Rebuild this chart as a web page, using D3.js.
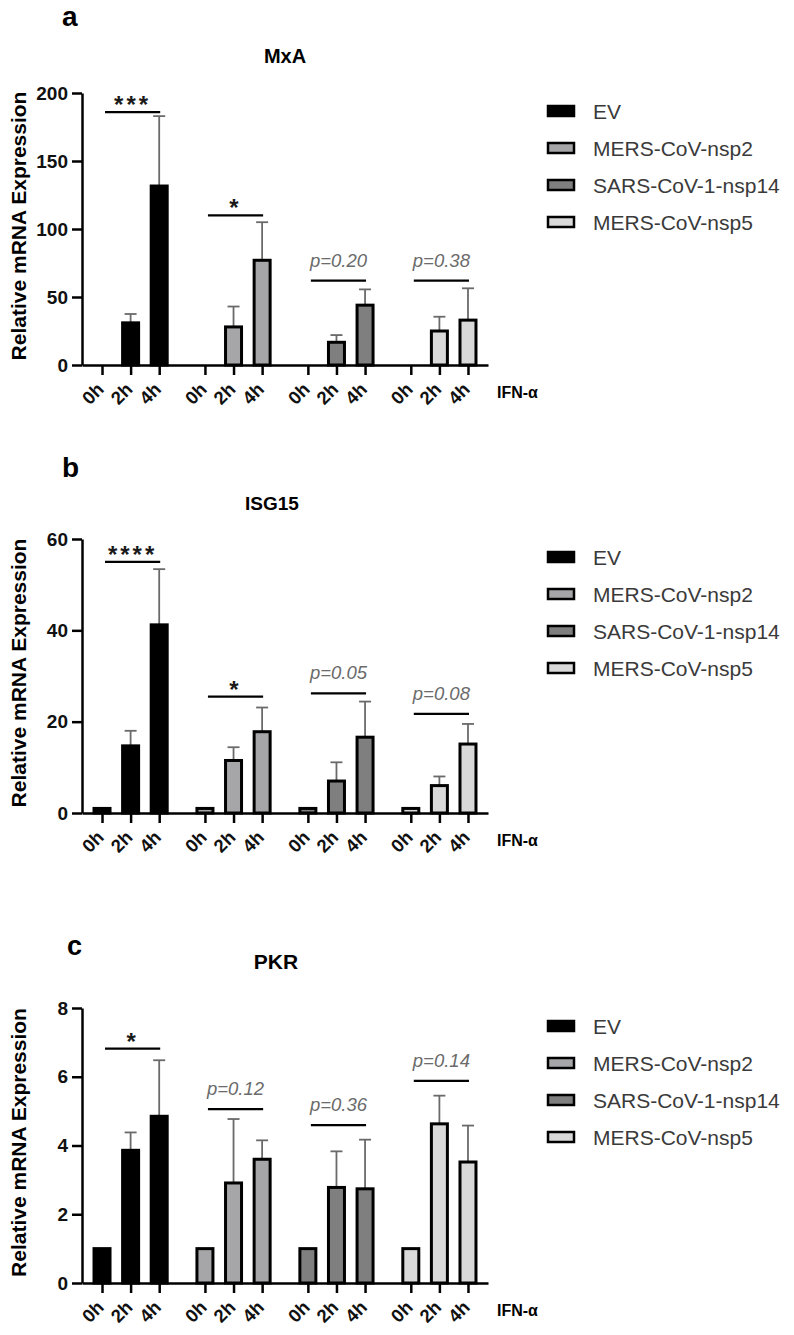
<!DOCTYPE html>
<html>
<head>
<meta charset="utf-8">
<script src="https://cdn.jsdelivr.net/npm/d3@7"></script>
<style>
  html, body { margin: 0; padding: 0; background: #fff; }
  svg { display: block; font-family: "Liberation Sans", Arial, sans-serif; }
</style>
</head>
<body>
<div id="fig"></div>
<script>
// groups and time points
const groups = ['EV', 'MERS-CoV-nsp2', 'SARS-CoV-1-nsp14', 'MERS-CoV-nsp5'];
const times = ['0h', '2h', '4h'];
const fills = ['#000000', '#a6a6a9', '#7f7f7f', '#d9d9d9'];

// MxA (panel a) - mean and SD, one row per group
const mxaMean = [[0, 31, 131.6], [0, 28, 77], [0, 16.7, 44], [0, 25, 33]];
const mxaSd = [[0, 6.5, 51.4], [0, 15, 28], [0, 5.3, 11.6], [0, 10.5, 23.4]];
const mxaSig = [['***', 186], ['*', 110], ['p=0.20', 62], ['p=0.38', 62]];
const mxaTicks = [0, 50, 100, 150, 200];

// ISG15 (panel b)
const isgMean = [[1, 14.7, 41.2], [1, 11.5, 17.8], [1, 7, 16.6], [1, 6, 15.1]];
const isgSd = [[0, 3.3, 12.2], [0, 2.9, 5.3], [0, 4.1, 7.8], [0, 2, 4.4]];
const isgSig = [['****', 55], ['*', 25.5], ['p=0.05', 26.2], ['p=0.08', 21.7]];
const isgTicks = [0, 20, 40, 60];

// PKR (panel c)
const pkrMean = [[1, 3.86, 4.85], [1, 2.91, 3.6], [1, 2.78, 2.74], [1, 4.63, 3.52]];
const pkrSd = [[0, 0.52, 1.63], [0, 1.86, 0.55], [0, 1.05, 1.43], [0, 0.82, 1.06]];
const pkrSig = [['*', 6.82], ['p=0.12', 5.06], ['p=0.36', 4.59], ['p=0.14', 5.88]];
const pkrTicks = [0, 2, 4, 6, 8];

const panels = [
  { letter: 'a', title: 'MxA', mean: mxaMean, sd: mxaSd, sig: mxaSig, ticks: mxaTicks,
    top: 93, bottom: 365, letterX: 62, letterY: 26, letterSize: 28,
    titleY: 63, titleX: 285, titleSize: 20 },
  { letter: 'b', title: 'ISG15', mean: isgMean, sd: isgSd, sig: isgSig, ticks: isgTicks,
    top: 539, bottom: 813, letterX: 62, letterY: 477, letterSize: 28,
    titleY: 510, titleX: 272, titleSize: 19 },
  { letter: 'c', title: 'PKR', mean: pkrMean, sd: pkrSd, sig: pkrSig, ticks: pkrTicks,
    top: 1008, bottom: 1283, letterX: 67, letterY: 955, letterSize: 27,
    titleY: 969, titleX: 276, titleSize: 21 }
];

const W = 794, H = 1335;
const axisX = 82, axisEnd = 488;
const groupStep = 3.6; // slot units between groups

const svg = d3.select('#fig').append('svg')
  .attr('width', W).attr('height', H);

// slot index for a bar
const slot = (g, t) => g * groupStep + t;

const x = d3.scaleLinear()
  .domain([-0.7, 13.5])
  .range([axisX, axisEnd]);

panels.forEach(p => {
  const yMax = d3.max(p.ticks);
  const y = d3.scaleLinear().domain([0, yMax]).range([p.bottom, p.top]);
  const g = svg.append('g');

  // panel letter + title
  g.append('text')
    .attr('x', p.letterX).attr('y', p.letterY)
    .attr('font-size', p.letterSize).attr('font-weight', 'bold')
    .text(p.letter);
  g.append('text')
    .attr('x', p.titleX).attr('y', p.titleY)
    .attr('text-anchor', 'middle')
    .attr('font-size', p.titleSize).attr('font-weight', 'bold')
    .text(p.title);

  // flatten bars
  const bars = [];
  groups.forEach((name, gi) => {
    times.forEach((t, ti) => {
      bars.push({ gi, ti, mean: p.mean[gi][ti], sd: p.sd[gi][ti] });
    });
  });

  const barW = 16;

  // error bars (upper only)
  const err = g.append('g').attr('stroke', '#6a6a6a').attr('stroke-width', 1.8);
  bars.filter(d => d.sd > 0).forEach(d => {
    const cx = x(slot(d.gi, d.ti));
    err.append('line')
      .attr('x1', cx).attr('x2', cx)
      .attr('y1', y(d.mean)).attr('y2', y(d.mean + d.sd));
    err.append('line')
      .attr('x1', cx - 6).attr('x2', cx + 6)
      .attr('y1', y(d.mean + d.sd)).attr('y2', y(d.mean + d.sd));
  });

  // bars
  g.selectAll('.bar')
    .data(bars.filter(d => d.mean > 0))
    .join('rect')
    .attr('class', 'bar')
    .attr('x', d => x(slot(d.gi, d.ti)) - barW / 2)
    .attr('width', barW)
    .attr('y', d => y(d.mean))
    .attr('height', d => y(0) - y(d.mean))
    .attr('fill', d => fills[d.gi])
    .attr('stroke', '#000')
    .attr('stroke-width', 3);

  // y axis
  const ya = g.append('g')
    .attr('transform', `translate(${axisX},0)`)
    .call(d3.axisLeft(y).tickValues(p.ticks).tickSize(10).tickSizeOuter(0).tickPadding(4));
  ya.select('.domain').attr('stroke-width', 2.5);
  ya.selectAll('.tick line').attr('stroke-width', 2.5);
  ya.selectAll('text')
    .attr('font-size', 19).attr('font-weight', 'bold')
    .attr('font-family', '"Liberation Sans", Arial, sans-serif')
    .attr('fill', '#111');

  // x axis
  const slots = [];
  groups.forEach((_, gi) => times.forEach((_, ti) => slots.push(slot(gi, ti))));
  const xa = g.append('g')
    .attr('transform', `translate(0,${p.bottom})`)
    .call(d3.axisBottom(x).tickValues(slots).tickSize(10).tickSizeOuter(0)
      .tickFormat((d, i) => times[i % 3]));
  xa.select('.domain').attr('stroke-width', 2.5);
  xa.selectAll('.tick line').attr('stroke-width', 2.5);
  xa.selectAll('text')
    .attr('font-size', 18.5).attr('font-weight', 'bold')
    .attr('font-family', '"Liberation Sans", Arial, sans-serif')
    .attr('fill', '#111')
    .attr('text-anchor', 'end')
    .attr('x', 0).attr('y', 0).attr('dy', '0.35em')
    .attr('transform', 'translate(-2,21) rotate(-45)');

  g.append('text')
    .attr('x', 497).attr('y', p.bottom + 33)
    .attr('font-size', 16).attr('font-weight', 'bold')
    .text('IFN-α');

  // y label
  g.append('text')
    .attr('transform', `translate(26,${(p.top + p.bottom) / 2 - 3}) rotate(-90)`)
    .attr('text-anchor', 'middle')
    .attr('font-size', 21).attr('font-weight', 'bold')
    .text('Relative mRNA Expression');

  // significance lines
  p.sig.forEach((s, gi) => {
    const ly = y(s[1]);
    g.append('line')
      .attr('x1', x(slot(gi, 0)) + 3).attr('x2', x(slot(gi, 2)) + 1)
      .attr('y1', ly).attr('y2', ly)
      .attr('stroke', '#000').attr('stroke-width', 2.2);
    const cx = (x(slot(gi, 0)) + x(slot(gi, 2))) / 2 + 2;
    if (s[0].startsWith('p')) {
      g.append('text')
        .attr('x', cx).attr('y', ly - 14)
        .attr('text-anchor', 'middle')
        .attr('font-size', 18.5).attr('font-style', 'italic')
        .attr('fill', '#6b6b6b')
        .text(s[0]);
    } else {
      g.append('text')
        .attr('x', cx).attr('y', ly + 1)
        .attr('text-anchor', 'middle')
        .attr('font-size', 24).attr('font-weight', 'bold')
        .attr('letter-spacing', 3)
        .attr('fill', '#1a1a1a')
        .text(s[0]);
    }
  });

  // legend
  const lg = g.append('g').attr('transform', `translate(547,${p.top + 18})`);
  groups.forEach((name, i) => {
    const row = lg.append('g').attr('transform', `translate(0,${i * 37})`);
    row.append('rect')
      .attr('x', 1).attr('y', -5).attr('width', 26).attr('height', 10)
      .attr('fill', fills[i]).attr('stroke', '#000').attr('stroke-width', 2.5);
    row.append('text')
      .attr('x', 46).attr('y', 0).attr('dy', '0.36em')
      .attr('font-size', 21).attr('fill', '#3a3a3a')
      .text(name);
  });
});
</script>
</body>
</html>
